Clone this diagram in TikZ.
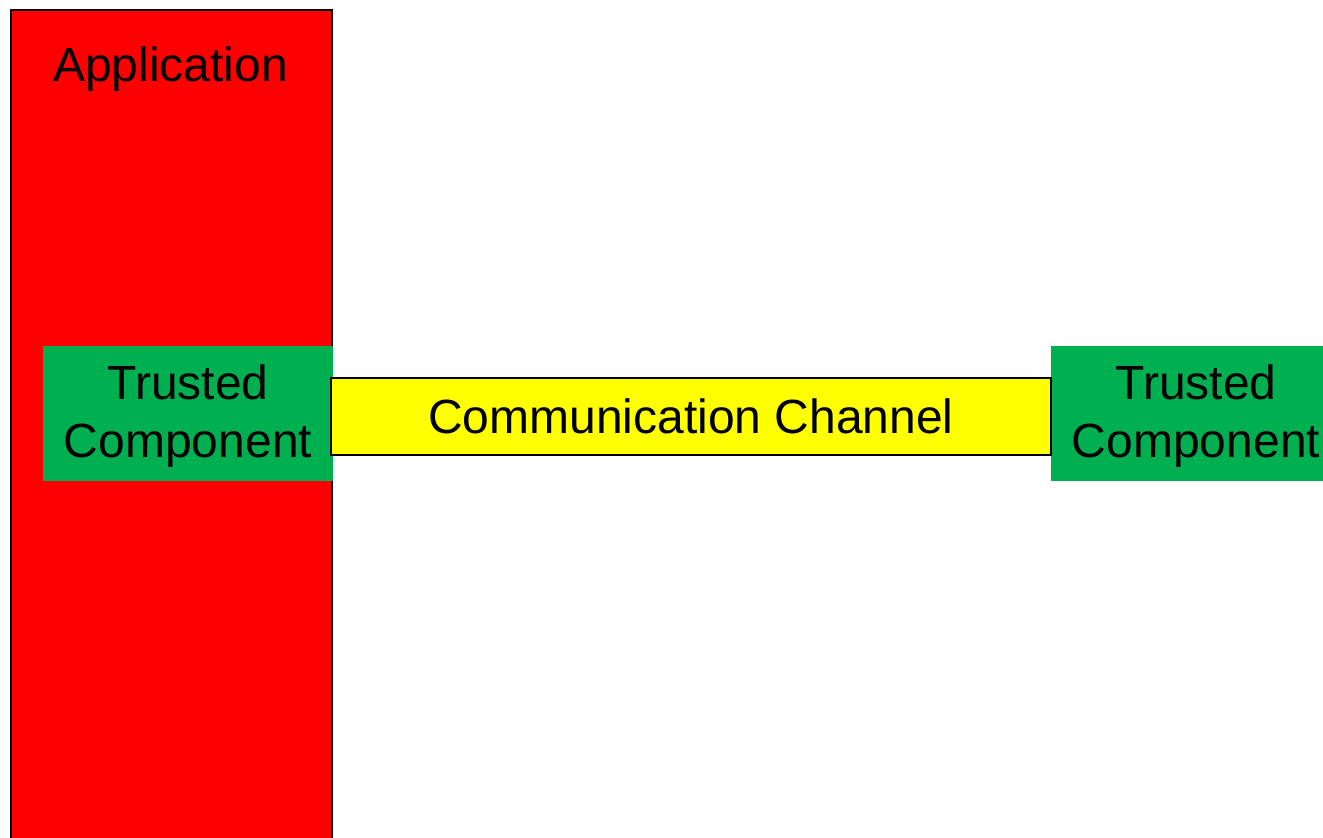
\documentclass[tikz,border=0pt]{standalone}
\usepackage{fontspec}
\setmainfont{Liberation Sans}
\usetikzlibrary{positioning}
\definecolor{appred}{RGB}{255,0,0}
\definecolor{trustgreen}{RGB}{0,176,80}
\definecolor{chanyellow}{RGB}{255,255,0}

\begin{document}
\begin{tikzpicture}[
		x=1pt, y=-1pt,
		font=\fontsize{48}{58}\selectfont,
		appbox/.style={draw=black, line width=2pt, fill=appred, inner sep=0pt},
		trusted/.style={fill=trustgreen, draw=none, inner sep=0pt,
			minimum width=290pt, minimum height=135pt},
		channel/.style={draw=black, line width=1.6pt, fill=chanyellow, inner sep=0pt,
			minimum width=720pt, minimum height=77pt}
		]
		% page
		\useasboundingbox (0,0) rectangle (1323,838);
		
		% application column
		\node[appbox, anchor=north west, minimum width=321pt, minimum height=850pt] (app) at (10,9) {};
		\node (apptitle) at (170.5,69) {Application};
		
		% trusted parts
		\node[trusted] (trustL) at (188,413.5) {};
		\node[align=center] (trustLtxt) at (188,416.5) {Trusted\\Component};
		\node[trusted] (trustR) at (1196,413.5) {};
		\node[align=center] (trustRtxt) at (1196,416.5) {Trusted\\Component};
		
		% channel in between
		\node[channel] (chan) at (691,416.5) {Communication Channel};
		\end{tikzpicture}
\end{document}
